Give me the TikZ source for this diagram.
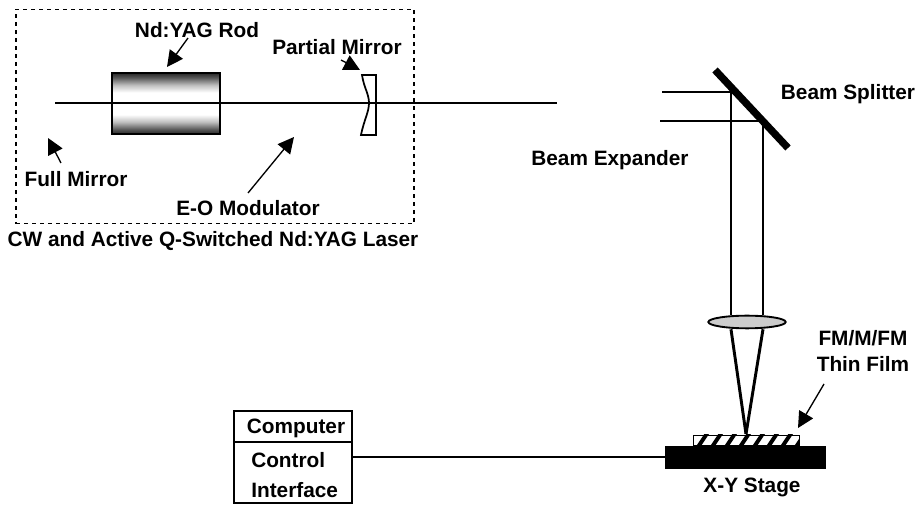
\documentclass[tikz,border=0pt]{standalone}
\usepackage{fontspec}
\setmainfont{Liberation Sans}
\usetikzlibrary{arrows.meta,positioning,calc,shapes.geometric}
\pgfdeclareverticalshading{rodshade}{100bp}{color(0bp)=(black!85); color(25bp)=(black!85); color(29bp)=(black!65); color(35bp)=(black!25); color(41bp)=(white); color(59bp)=(white); color(65bp)=(black!25); color(71bp)=(black!65); color(75bp)=(black!85); color(100bp)=(black!85)}
\begin{document}
\begin{tikzpicture}[
    x=0.75pt,y=-0.75pt,
    label/.style={font=\fontsize{15.6}{18}\selectfont\bfseries,inner sep=0pt,align=center},
    beam/.style={line width=2.2pt,black},
    pointer/.style={-{Triangle[length=12pt,width=12pt]},line width=1pt},
    partbox/.style={draw,line width=1.7pt,inner sep=0pt}
  ]
    \useasboundingbox (0,0) rectangle (917,505);

    % Laser enclosure
    \node[draw,dashed,line width=0.8pt,inner sep=0pt,minimum width=298.5pt,minimum height=161pt] (laser) at (215,116.5) {};
    \node[label] (laserlabel) at (213,241) {CW and Active Q-Switched Nd:YAG Laser};

    % Rod and partial mirror
    \node[partbox,shading=rodshade,minimum width=81pt,minimum height=46pt] (rod) at (166,103.5) {};
    \coordinate (mirrorcenter) at (369,103);
    \draw[line width=1.3pt,fill=white] (362,75) -- (376,75) -- (376,135) -- (361,135) .. controls (364,120) and (369,112) .. (mirrorcenter) .. controls (369,94) and (364,88) .. cycle;

    % Beam from the laser
    \coordinate (beamstart) at (55,103);
    \coordinate (beamend) at (557,103);
    \draw[beam] (beamstart) -- (beamend);

    % Beam splitter and expanded beam
    \coordinate (splittop) at (715,70);
    \coordinate (splitbottom) at (788,148);
    \coordinate (upperin) at (662,92);
    \coordinate (lowerin) at (660,121);
    \coordinate (upperhit) at (731,92);
    \coordinate (lowerhit) at (763,121);
    \coordinate (focus) at (746,434);
    \draw[line width=1.8pt] (upperin) -- (upperhit);
    \draw[line width=1.8pt] (lowerin) -- (lowerhit);
    \node[draw,line width=1.4pt,ellipse,fill=black!20,inner sep=0pt,minimum width=58pt,minimum height=9.5pt] (lens) at (747,322) {};
    \draw[beam] (upperhit) -- (upperhit |- lens.north);
    \draw[beam] (lowerhit) -- (lowerhit |- lens.north);
    \draw[beam] (upperhit |- lens.south) -- (focus);
    \draw[beam] (lowerhit |- lens.south) -- (focus);
    \draw[line width=5.5pt] (splittop) -- (splitbottom);

    % Stage and film
    \node[fill=black,draw,inner sep=0pt,minimum width=120pt,minimum height=16.5pt] (stage) at (745.5,457) {};
    \node[draw,line width=0.8pt,inner sep=0pt,minimum width=79pt,minimum height=8pt] (film) at (746.5,440.5) {};
    \begin{scope}
      \clip (film.south west) rectangle (film.north east);
      \foreach \i in {0,...,7}
        \draw[line width=3pt] (696+\i*14,450) -- (708+\i*14,432);
    \end{scope}

    % Computer
    \node[partbox,minimum width=88.5pt,minimum height=69pt] (computer) at (293,457) {};
    \draw[line width=1.3pt] (computer.west |- 0,442) -- (computer.east |- 0,442);
    \draw[line width=1.5pt] (computer.east) -- (computer.east -| stage.west);
    \node[label] (computerlabel) at (296,428) {Computer};
    \node[label,anchor=west] (controllabel) at (251,460) {Control};
    \node[label,anchor=west] (interfacelabel) at (251,490) {Interface};

    % Labels
    \node[label] (rodlabel) at (197,30) {Nd:YAG Rod};
    \node[label] (partiallabel) at (337,47) {Partial Mirror};
    \node[label] (fulllabel) at (76,179) {Full Mirror};
    \node[label] (eolabel) at (248,208) {E-O Modulator};
    \node[label] (splitterlabel) at (848,94) {Beam Splitter};
    \node[label] (expanderlabel) at (610,160) {Beam Expander};
    \node[label] (filmlabel) at (863,351) {FM/M/FM\\[2pt]Thin Film};
    \node[label] (stagelabel) at (752,487) {X-Y Stage};

    % Pointers
    \coordinate (rodtip) at (167,67);
    \coordinate (rodtail) at (188,38);
    \coordinate (partialtip) at (360,70);
    \coordinate (partialtail) at (341,60);
    \coordinate (fulltip) at (48,138);
    \coordinate (fulltail) at (61,163);
    \coordinate (eotip) at (294,137);
    \coordinate (eotail) at (248,193);
    \coordinate (filmtip) at (798,428);
    \coordinate (filmtail) at (824,384);
    \draw[pointer] (rodtail) -- (rodtip);
    \draw[pointer] (partialtail) -- (partialtip);
    \draw[pointer] (fulltail) -- (fulltip);
    \draw[pointer] (eotail) -- (eotip);
    \draw[pointer] (filmtail) -- (filmtip);
  \end{tikzpicture}
\end{document}
